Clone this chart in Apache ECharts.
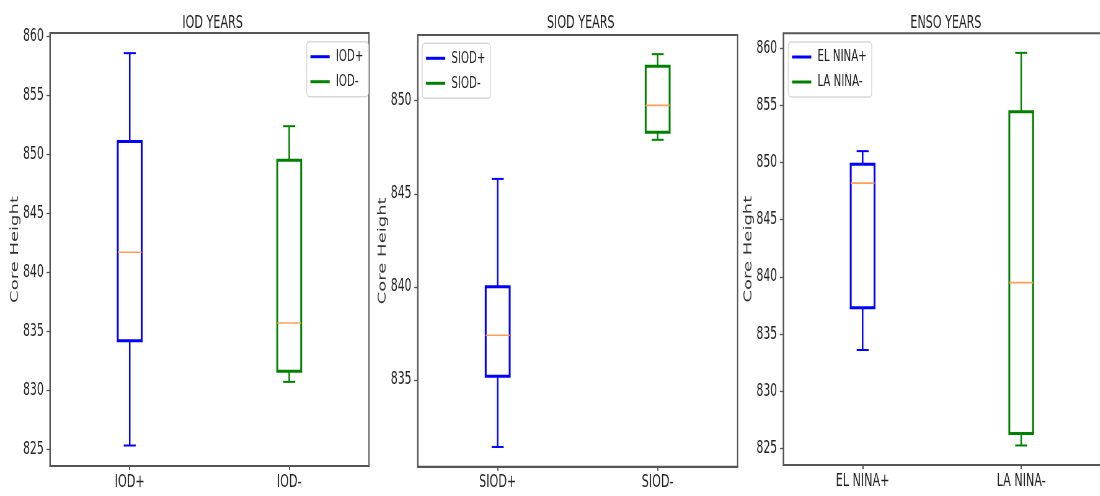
<!DOCTYPE html>
<html>
<head>
<meta charset="utf-8">
<script src="https://cdn.jsdelivr.net/npm/echarts@6/dist/echarts.min.js"></script>
<style>
  html, body { margin: 0; padding: 0; background: #fff; overflow: hidden; width: 1100px; height: 496px; }
  /* the figure is drawn wide and compressed horizontally into the 1100px frame */
  #chart { width: 1775px; height: 496px; transform: scaleX(0.62); transform-origin: 0 0; }
</style>
</head>
<body>
<div id="chart"></div>
<script>
// ---- data: box statistics as [min, Q1, median, Q3, max] ----
const panelTitles = ['IOD YEARS', 'SIOD YEARS', 'ENSO YEARS'];
const iodCategories = ['IOD+', 'IOD-'];
const siodCategories = ['SIOD+', 'SIOD-'];
const ensoCategories = ['EL NINA+', 'LA NINA-'];

const iodPlus     = [825.3, 834.2, 841.7, 851.1, 858.6];
const iodMinus    = [830.7, 831.6, 835.7, 849.5, 852.4];
const siodPlus    = [831.4, 835.2, 837.4, 840.0, 845.8];
const siodMinus   = [847.9, 848.3, 849.75, 851.85, 852.5];
const elNinaPlus  = [833.6, 837.3, 848.2, 849.85, 851.0];
const laNinaMinus = [825.25, 826.3, 839.5, 854.45, 859.6];

// y tick labels of each panel
const iodTicks  = [825, 830, 835, 840, 845, 850, 855, 860];
const siodTicks = [835, 840, 845, 850];
const ensoTicks = [825, 830, 835, 840, 845, 850, 855, 860];

const yLabel = 'Core Height';

// ---- styling ----
const FONT = 'DejaVu Sans';
const BLUE = '#0000ff';
const GREEN = '#008000';
const MEDIAN = '#ff9f5a';
const SPINE = '#555555';
const TEXT = '#222222';

const panels = [
  { grid: { left: 80.6, top: 33, width: 514.5, height: 433 }, min: 823.56, max: 860.31, ticks: iodTicks,
    legend: { left: 494.7, top: 41.7 }, cats: iodCategories, stats: [iodPlus, iodMinus] },
  { grid: { left: 673.7, top: 35, width: 516, height: 431.7 }, min: 830.34, max: 853.53, ticks: siodTicks,
    legend: { left: 681.1, top: 43.3 }, cats: siodCategories, stats: [siodPlus, siodMinus] },
  { grid: { left: 1263.4, top: 33.3, width: 514.5, height: 431.7 }, min: 823.54, max: 861.31, ticks: ensoTicks,
    legend: { left: 1271.5, top: 42 }, cats: ensoCategories, stats: [elNinaPlus, laNinaMinus] }
];

// matplotlib-style box: box outline, orange median, whiskers with half-width caps
function renderBox(params, api) {
  const cat = api.value(0);
  const band = api.size([1, 0])[0];
  const hb = band * 0.075;
  const hc = hb / 2;
  const p = [1, 2, 3, 4, 5].map(function (i) { return api.coord([cat, api.value(i)]); });
  const cx = p[0][0];
  const color = api.visual('color');
  function seg(x1, y1, x2, y2, stroke, w) {
    return { type: 'line', shape: { x1: x1, y1: y1, x2: x2, y2: y2 }, style: { stroke: stroke, lineWidth: w } };
  }
  return {
    type: 'group',
    children: [
      seg(cx, p[3][1], cx, p[4][1], color, 2.5),
      seg(cx, p[1][1], cx, p[0][1], color, 2.5),
      seg(cx - hc, p[4][1], cx + hc, p[4][1], color, 2),
      seg(cx - hc, p[0][1], cx + hc, p[0][1], color, 2),
      { type: 'rect', shape: { x: cx - hb, y: p[3][1], width: 2 * hb, height: p[1][1] - p[3][1] },
        style: { fill: 'none', stroke: color, lineWidth: 3 } },
      seg(cx - hb, p[2][1], cx + hb, p[2][1], MEDIAN, 1.6)
    ]
  };
}

const option = {
  animation: false,
  backgroundColor: '#fff',
  title: [], grid: [], xAxis: [], yAxis: [], legend: [], series: []
};

panels.forEach(function (pn, i) {
  option.title.push({
    text: panelTitles[i],
    left: pn.grid.left + pn.grid.width / 2,
    top: 9,
    textAlign: 'center',
    textStyle: { fontFamily: FONT, fontSize: 18, fontWeight: 'normal', color: TEXT }
  });
  option.grid.push(Object.assign({ show: true, borderColor: SPINE, borderWidth: 2, backgroundColor: '#fff' }, pn.grid));
  option.xAxis.push({
    type: 'category', gridIndex: i, data: pn.cats, boundaryGap: true,
    axisLine: { show: true, lineStyle: { color: SPINE, width: 2 } },
    axisTick: { show: true, alignWithLabel: true, length: 4, lineStyle: { color: SPINE, width: 2 } },
    axisLabel: { fontFamily: FONT, fontSize: 18, color: TEXT, margin: 7 },
    splitLine: { show: false }
  });
  option.yAxis.push({
    type: 'value', gridIndex: i, min: pn.min, max: pn.max,
    name: yLabel, nameLocation: 'middle', nameGap: 46,
    nameTextStyle: { fontFamily: FONT, fontSize: 18, color: '#333' },
    axisLine: { show: true, lineStyle: { color: SPINE, width: 2 } },
    axisTick: { show: true, length: 5.6, customValues: pn.ticks, lineStyle: { color: SPINE, width: 1.3 } },
    axisLabel: { fontFamily: FONT, fontSize: 17.5, color: TEXT, margin: 10, customValues: pn.ticks },
    splitLine: { show: false }
  });
  const names = pn.cats;
  option.legend.push({
    data: names, left: pn.legend.left, top: pn.legend.top, orient: 'vertical',
    icon: 'rect', itemWidth: 31, itemHeight: 3, itemGap: 5, selectedMode: false,
    padding: [5, 8, 5, 6], borderColor: '#d8d8d8', borderWidth: 1.5, borderRadius: 4,
    backgroundColor: '#fff',
    textStyle: { fontFamily: FONT, fontSize: 16.5, color: TEXT, lineHeight: 20, padding: [0, 0, 0, 5] }
  });
  [BLUE, GREEN].forEach(function (c, k) {
    option.series.push({
      type: 'custom', name: names[k], xAxisIndex: i, yAxisIndex: i,
      itemStyle: { color: c }, clip: false, z: 3,
      encode: { x: 0, y: [1, 2, 3, 4, 5] },
      renderItem: renderBox,
      data: [[k].concat(pn.stats[k])]
    });
  });
});

const chart = echarts.init(document.getElementById('chart'), null, { renderer: 'canvas' });
chart.setOption(option);
</script>
</body>
</html>
